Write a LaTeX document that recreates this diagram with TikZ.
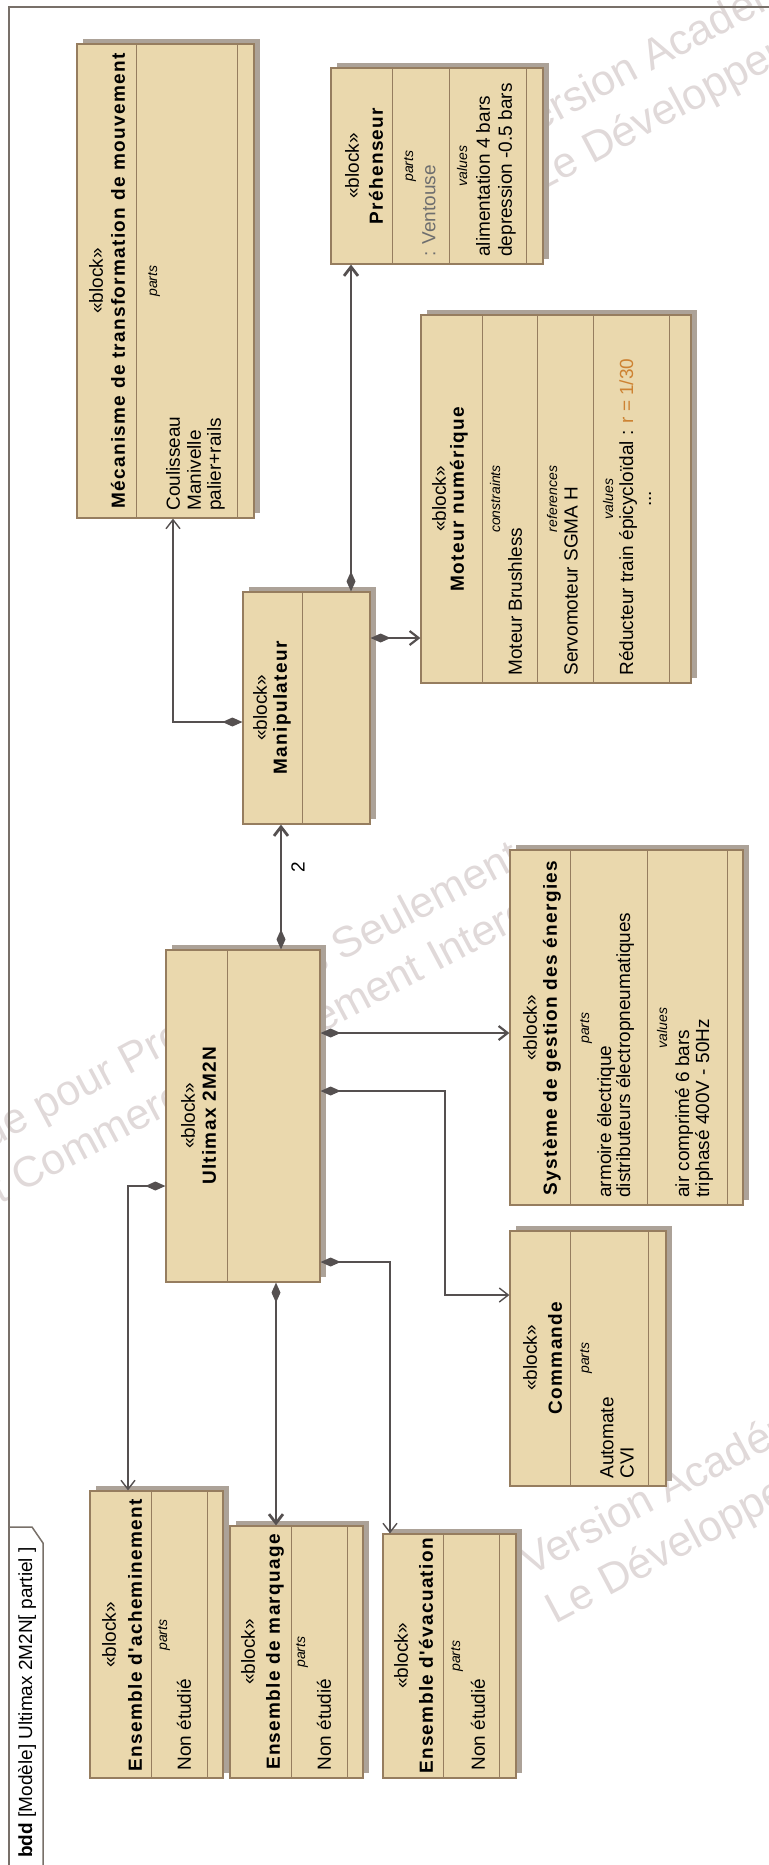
\documentclass[tikz,border=0pt]{standalone}
\usepackage{fontspec}
\setmainfont{Liberation Sans}
\newfontfamily\titlefont{Liberation Sans}[LetterSpace=7]
\usepackage{tikz}
\usetikzlibrary{arrows.meta,positioning,fit,shadows}
\definecolor{blockfill}{RGB}{234,216,173}
\definecolor{blockline}{RGB}{150,125,95}
\definecolor{blockshadow}{RGB}{172,162,152}
\definecolor{linkgray}{RGB}{85,80,80}
\definecolor{framegray}{RGB}{120,112,105}
\definecolor{markgray}{RGB}{224,217,217}
\definecolor{valorange}{RGB}{205,130,50}
\definecolor{typegray}{RGB}{110,110,110}
\tikzset{
  block/.style={draw=blockline, fill=blockfill, line width=0.6pt, inner sep=0pt,
                drop shadow={shadow xshift=3pt, shadow yshift=2.5pt,
                             fill=blockshadow, opacity=1}},
  compart/.style={draw=blockline, line width=0.5pt},
  txt/.style={rotate=90, inner sep=0pt, font=\fontsize{9.5}{11}\selectfont},
  blockname/.style={txt, font=\titlefont\bfseries\fontsize{9.5}{11}\selectfont},
  tag/.style={txt, font=\fontsize{7}{8}\selectfont\itshape},
  item/.style={txt, anchor=west},
  partof/.style={draw=linkgray,
                 {Diamond[length=10pt,width=4.5pt]}-{Straight Barb[length=4.5pt,width=7pt]}},
  thinlink/.style={partof, line width=0.7pt},
  midlink/.style={partof, line width=1.1pt},
  boldlink/.style={partof, line width=1.4pt},
  frameline/.style={draw=framegray, line width=0.75pt},
  wmark/.style={rotate=28, anchor=base west, inner sep=0pt, text=markgray,
                font=\fontsize{21.5}{25}\selectfont}
}
\begin{document}
\begin{tikzpicture}[x=0.5pt, y=-0.5pt]
  \useasboundingbox (0,0) rectangle (769,1865);

  \node[wmark] (markA1) at (-317,1312) {Version Académique pour Professeurs Seulement};
  \node[wmark] (markA2) at (-308,1368) {Le Développement Commercial Strictement Interdit};
  \node[wmark] (markB1) at (514,145) {Version Académique pour Professeurs Seulement};
  \node[wmark] (markB2) at (539,193) {Le Développement Commercial Strictement Interdit};
  \node[wmark] (markC1) at (530,1577) {Version Académique pour Professeurs Seulement};
  \node[wmark] (markC2) at (555,1625) {Le Développement Commercial Strictement Interdit};

  \draw[frameline] (775,7) -- (9,7) -- (9,1870);
  \draw[frameline] (9,1527) -- (32,1527) -- (43,1543) -- (43,1870);
  \node[item] (diagname) at (27,1858) {\textbf{bdd} [Modèle] Ultimax 2M2N[ partiel ]};

  \node[block, fit={(77,44) (254,518)}] (mech) {};
  \draw[compart] (136,0 |- mech.north) -- (136,0 |- mech.south);
  \draw[compart] (237,0 |- mech.north) -- (237,0 |- mech.south);
  \node[txt] at (96,281) {«block»};
  \node[blockname] at (118,281) {Mécanisme de transformation de mouvement};
  \node[tag] at (154,281) {parts};
  \node[item] at (173,511) {Coulisseau};
  \node[item] at (194,511) {Manivelle};
  \node[item] at (216,511) {palier+rails};

  \node[block, fit={(331,68) (543,264)}] (preh) {};
  \draw[compart] (392,0 |- preh.north) -- (392,0 |- preh.south);
  \draw[compart] (449,0 |- preh.north) -- (449,0 |- preh.south);
  \draw[compart] (526,0 |- preh.north) -- (526,0 |- preh.south);
  \node[txt] at (352,166) {«block»};
  \node[blockname] at (376,166) {Préhenseur};
  \node[tag] at (410,166) {parts};
  \node[item, text=typegray] at (429,257) {: Ventouse};
  \node[tag] at (462,166) {values};
  \node[item] at (483,257) {alimentation 4 bars};
  \node[item] at (507,257) {depression -0.5 bars};

  \node[block, fit={(421,315) (691,683)}] (mot) {};
  \draw[compart] (482,0 |- mot.north) -- (482,0 |- mot.south);
  \draw[compart] (537,0 |- mot.north) -- (537,0 |- mot.south);
  \draw[compart] (593,0 |- mot.north) -- (593,0 |- mot.south);
  \draw[compart] (669,0 |- mot.north) -- (669,0 |- mot.south);
  \node[txt] at (439,499) {«block»};
  \node[blockname] at (459,499) {Moteur numérique};
  \node[tag] at (495,499) {constraints};
  \node[item] at (515,676) {Moteur Brushless};
  \node[tag] at (552,499) {references};
  \node[item] at (571,676) {Servomoteur SGMA H};
  \node[tag] at (608,499) {values};
  \node[item] at (628,676) {Réducteur train épicycloïdal : \textcolor{valorange}{r = 1/30}};
  \node[txt] at (650,499) {...};

  \node[block, fit={(243,592) (370,824)}] (mani) {};
  \draw[compart] (302,0 |- mani.north) -- (302,0 |- mani.south);
  \node[txt] at (260,708) {«block»};
  \node[blockname] at (282,708) {Manipulateur};

  \node[block, fit={(166,950) (320,1282)}] (ulti) {};
  \draw[compart] (227,0 |- ulti.north) -- (227,0 |- ulti.south);
  \node[txt] at (188,1116) {«block»};
  \node[blockname] at (209,1116) {Ultimax 2M2N};

  \node[block, fit={(510,850) (743,1205)}] (sys) {};
  \draw[compart] (570,0 |- sys.north) -- (570,0 |- sys.south);
  \draw[compart] (647,0 |- sys.north) -- (647,0 |- sys.south);
  \draw[compart] (727,0 |- sys.north) -- (727,0 |- sys.south);
  \node[txt] at (530,1028) {«block»};
  \node[blockname] at (552,1028) {Système de gestion des énergies};
  \node[tag] at (586,1028) {parts};
  \node[item] at (606,1198) {armoire électrique};
  \node[item] at (625,1198) {distributeurs électropneumatiques};
  \node[tag] at (662,1028) {values};
  \node[item] at (684,1198) {air comprimé 6 bars};
  \node[item] at (704,1198) {triphasé 400V - 50Hz};

  \node[block, fit={(510,1231) (666,1486)}] (cmd) {};
  \draw[compart] (570,0 |- cmd.north) -- (570,0 |- cmd.south);
  \draw[compart] (648,0 |- cmd.north) -- (648,0 |- cmd.south);
  \node[txt] at (530,1358) {«block»};
  \node[blockname] at (555,1358) {Commande};
  \node[tag] at (586,1358) {parts};
  \node[item] at (607,1479) {Automate};
  \node[item] at (627,1479) {CVI};

  \node[block, fit={(90,1491) (223,1778)}] (ach) {};
  \draw[compart] (151,0 |- ach.north) -- (151,0 |- ach.south);
  \draw[compart] (207,0 |- ach.north) -- (207,0 |- ach.south);
  \node[txt] at (109,1635) {«block»};
  \node[blockname] at (135,1635) {Ensemble d'acheminement};
  \node[tag] at (164,1635) {parts};
  \node[item] at (184,1771) {Non étudié};

  \node[block, fit={(230,1526) (363,1778)}] (marq) {};
  \draw[compart] (291,0 |- marq.north) -- (291,0 |- marq.south);
  \draw[compart] (347,0 |- marq.north) -- (347,0 |- marq.south);
  \node[txt] at (248,1652) {«block»};
  \node[blockname] at (275,1652) {Ensemble de marquage};
  \node[tag] at (302,1652) {parts};
  \node[item] at (324,1771) {Non étudié};

  \node[block, fit={(383,1534) (516,1778)}] (evac) {};
  \draw[compart] (443,0 |- evac.north) -- (443,0 |- evac.south);
  \draw[compart] (499,0 |- evac.north) -- (499,0 |- evac.south);
  \node[txt] at (401,1656) {«block»};
  \node[blockname] at (426,1656) {Ensemble d'évacuation};
  \node[tag] at (457,1656) {parts};
  \node[item] at (478,1771) {Non étudié};

  \draw[thinlink] (mani.west |- 0,722) -| (mech.south -| 173,0);
  \draw[boldlink] (mani.north -| 351,0) -- (preh.south -| 351,0);
  \draw[midlink] (mani.east |- 0,638) -- (mot.west |- 0,638);
  \draw[boldlink] (ulti.north -| 281,0) -- (mani.south -| 281,0);
  \node[txt] (mult) at (298,867) {2};
  \draw[midlink] (ulti.east |- 0,1033) -- (sys.west |- 0,1033);
  \coordinate (cmdbend) at (445,1295);
  \draw[thinlink] (ulti.east |- 0,1091) -| (cmdbend) -- (cmd.west |- cmdbend);
  \draw[thinlink] (ulti.east |- 0,1262) -| (evac.north -| 390,0);
  \draw[boldlink] (ulti.south -| 276,0) -- (marq.north -| 276,0);
  \draw[thinlink] (ulti.west |- 0,1186) -| (ach.north -| 128,0);
\end{tikzpicture}
\end{document}
